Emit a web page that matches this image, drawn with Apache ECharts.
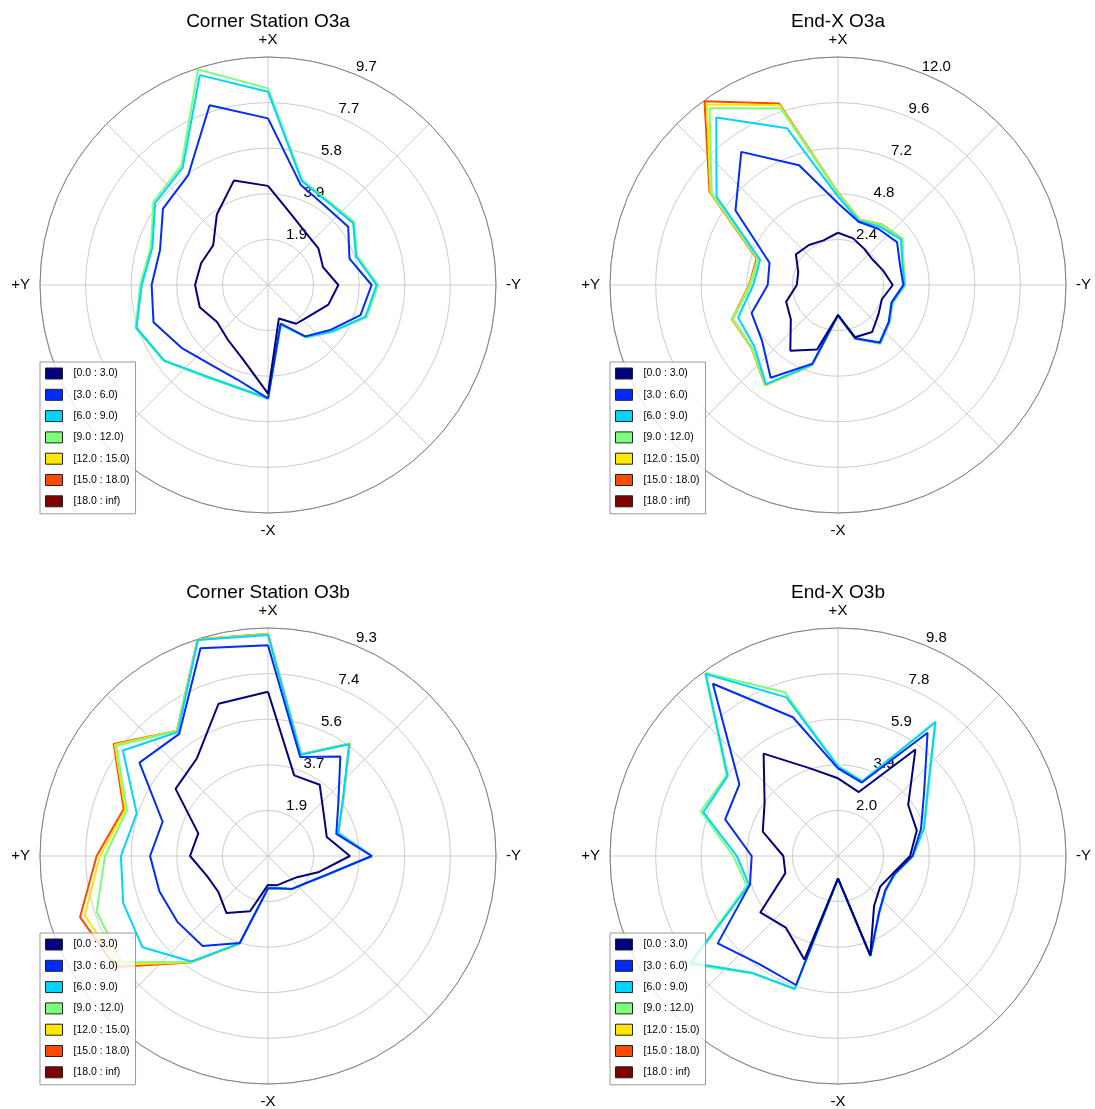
<!DOCTYPE html>
<html><head><meta charset="utf-8">
<script src="https://cdn.jsdelivr.net/npm/echarts@6/dist/echarts.min.js"></script>
<style>html,body{margin:0;padding:0;background:#fff}#c{width:1095px;height:1109px}</style>
</head><body><div id="c"></div>
<script>
// direction (degrees, counter-clockwise from +X towards +Y)
const directions = [0,18,36,54,72,90,108,126,144,162,180,198,216,234,252,270,288,306,324,342];
const binNames = ['[0.0 : 3.0)','[3.0 : 6.0)','[6.0 : 9.0)','[9.0 : 12.0)','[12.0 : 15.0)','[15.0 : 18.0)','[18.0 : inf)'];
const binColors = ['#000080','#002bff','#00d4ff','#7bff7b','#ffe600','#ff4800','#800000'];
const panelTitles = ['Corner Station O3a','End-X O3a','Corner Station O3b','End-X O3b'];
const radiusMax = [9.66, 12.0, 9.3, 9.8];
const cardinalLabels = {0:'+X', 90:'+Y', 180:'-X', 270:'-Y'};

// cumulative frequency per bin (Corner Station O3a)
const tl0 = [4.2,4.66,3.69,2.87,2.98,3.09,3.04,2.67,2.88,3.35,4.6,1.49,2.03,2.2,2.69,2.98,2.45,2.64,2.73,3.16];
const tl1 = [7.06,8.01,5.75,5.5,4.81,4.93,5.1,4.53,4.16,4.21,4.8,1.72,2.69,3.25,4.12,4.39,3.63,4.2,4.13,4.47];
const tl2 = [8.19,9.35,6.15,5.91,5.15,5.35,5.86,5.44,4.71,4.52,4.8,1.75,2.72,3.35,4.34,4.6,3.92,4.46,4.33,4.63];
const tl3 = [8.33,9.6,6.25,6.0,5.22,5.42,5.9,5.47,4.75,4.56,4.83,1.77,2.75,3.38,4.4,4.67,3.97,4.52,4.38,4.68];
// End-X O3a
const tr0 = [2.75,2.47,2.6,2.74,2.2,2.17,2.87,3.07,4.27,3.57,1.58,2.89,3.06,2.63,2.43,2.88,2.49,2.26,2.35,2.58];
const tr1 = [4.3,6.63,8.66,6.67,3.79,3.7,4.78,4.95,6.03,4.35,1.58,2.95,3.74,3.3,2.96,3.44,3.43,3.84,3.64,3.5];
const tr2 = [4.65,8.67,10.9,7.9,4.31,4.46,5.53,5.46,6.45,4.41,1.6,2.97,3.78,3.33,3.0,3.5,3.57,4.09,3.78,3.56];
const tr3 = [4.83,9.78,11.5,8.22,4.42,4.6,5.81,5.6,6.5,4.43,1.6,2.97,3.8,3.35,3.02,3.52,3.62,4.16,3.9,3.6];
const tr4 = [4.85,9.95,11.75,8.3,4.45,4.65,5.85,5.62,6.52,4.43,1.6,2.97,3.8,3.35,3.02,3.52,3.62,4.17,3.92,3.62];
const tr5 = [4.87,10.05,11.95,8.36,4.5,4.68,5.87,5.63,6.53,4.44,1.6,2.97,3.8,3.35,3.02,3.52,3.62,4.17,3.93,3.63];
// Corner Station O3b
const bl0 = [6.7,6.53,4.93,4.66,2.99,3.18,2.62,2.5,2.88,2.37,1.18,1.25,1.28,1.47,2.15,3.34,2.52,2.82,3.59,3.46];
const bl1 = [8.6,8.91,6.16,6.48,4.52,4.81,4.66,4.57,4.54,3.73,1.32,1.38,1.66,1.89,2.5,4.23,2.93,3.54,5.02,4.25];
const bl2 = [9.01,9.26,6.25,7.32,5.63,6.0,6.21,6.33,5.32,3.75,1.33,1.39,1.67,1.9,2.51,4.24,3.01,3.76,5.63,4.34];
const bl3 = [9.05,9.28,6.3,7.65,6.05,6.65,7.35,7.38,5.35,3.76,1.33,1.39,1.67,1.9,2.51,4.25,3.02,3.78,5.66,4.36];
const bl4 = [9.06,9.29,6.31,7.72,6.12,6.85,7.86,7.55,5.36,3.76,1.33,1.39,1.67,1.9,2.51,4.25,3.02,3.78,5.67,4.37];
const bl5 = [9.07,9.3,6.32,7.78,6.19,6.99,8.06,7.7,5.37,3.77,1.33,1.39,1.67,1.9,2.51,4.25,3.02,3.78,5.67,4.37];
// End-X O3b
const br0 = [3.34,3.97,5.44,3.9,3.4,2.35,2.38,4.13,3.81,4.68,0.96,4.49,2.64,2.24,2.47,3.1,3.56,3.73,5.66,2.89];
const br1 = [3.77,6.27,9.15,5.24,5.1,3.71,3.98,6.39,5.75,5.83,0.96,4.5,3.0,2.51,2.54,3.2,3.75,4.57,6.55,3.32];
const br2 = [3.84,7.17,9.67,5.86,6.09,4.35,4.02,7.8,6.22,6.0,0.97,4.52,3.02,2.53,2.56,3.22,3.88,4.76,7.11,3.37];
const br3 = [3.86,7.4,9.72,5.92,6.2,4.5,4.12,7.92,6.24,6.02,0.97,4.52,3.02,2.53,2.56,3.23,3.9,4.8,7.15,3.4];

const panelData = [[tl0,tl1,tl2,tl3],[tr0,tr1,tr2,tr3,tr4,tr5],[bl0,bl1,bl2,bl3,bl4,bl5],[br0,br1,br2,br3]];

const FONT = "'Liberation Sans', Arial, Helvetica, sans-serif";
const centers = [[268,285],[838,285],[268,856],[838,856]];
const R = 228;

const polar = [], angleAxis = [], radiusAxis = [], series = [], title = [], legend = [];
centers.forEach((c, p) => {
  const M = radiusMax[p];
  polar.push({center: c, radius: R});
  angleAxis.push({
    polarIndex: p, type: 'value', min: 0, max: 360, interval: 45,
    startAngle: 90, clockwise: false,
    axisLine: {lineStyle: {color: '#808080', width: 1}},
    axisTick: {show: false},
    axisLabel: {margin: 10, fontSize: 15, color: '#000', fontFamily: FONT,
      formatter: v => (v === 360 ? '' : (cardinalLabels[v] || ''))},
    splitLine: {lineStyle: {color: '#cccccc', width: 1}}
  });
  radiusAxis.push({
    polarIndex: p, type: 'value', min: 0, max: M, interval: M / 5,
    axisLine: {show: false}, axisTick: {show: false}, axisLabel: {show: false},
    splitLine: {lineStyle: {color: '#cccccc', width: 1}}
  });
  title.push({
    text: panelTitles[p], left: c[0], top: c[1] - 273, textAlign: 'center', padding: 0,
    textStyle: {fontSize: 19, fontWeight: 'normal', color: '#000', fontFamily: FONT}
  });
  legend.push({
    data: binNames.map(n => ({name: n, icon: 'rect'})),
    orient: 'vertical', left: c[0] - 228, top: c[1] + 77,
    itemWidth: 17, itemHeight: 11, itemGap: 8.3, selectedMode: false,
    padding: [5, 6, 6, 5],
    backgroundColor: 'rgba(255,255,255,0.8)', borderColor: '#999', borderWidth: 1,
    itemStyle: {borderColor: '#222', borderWidth: 1},
    textStyle: {fontSize: 10.5, color: '#000', fontFamily: FONT, lineHeight: 13, padding: [0, 0, 0, 6]}
  });
  // series drawn from highest bin to lowest so lower bins stay on top
  for (let b = binNames.length - 1; b >= 0; b--) {
    const arr = panelData[p][b];
    const data = arr ? arr.map((v, i) => [v, directions[i]]).concat([[arr[0], 360]]) : [];
    series.push({
      type: 'line', name: binNames[b], coordinateSystem: 'polar', polarIndex: p,
      data: data, symbol: 'none', smooth: false, silent: true,
      color: binColors[b],
      lineStyle: {color: binColors[b], width: 2}
    });
  }
});
// secondary polars: only carry the radial tick labels along the 22.5 deg direction
centers.forEach((c, p) => {
  const M = radiusMax[p];
  const idx = 4 + p;
  polar.push({center: [c[0] + 11.1, c[1] - 7.6], radius: R});
  angleAxis.push({polarIndex: idx, type: 'value', min: 0, max: 360, startAngle: 67.5, clockwise: false, show: false});
  radiusAxis.push({
    polarIndex: idx, type: 'value', min: 0, max: M, interval: M / 5,
    axisLine: {show: false}, axisTick: {show: false}, splitLine: {show: false},
    axisLabel: {show: true, margin: 0, align: 'center', verticalAlign: 'middle', rotate: 0,
      fontSize: 15, color: '#000', fontFamily: FONT,
      formatter: v => (v <= 0 ? '' : v.toFixed(1))}
  });
});

const chart = echarts.init(document.getElementById('c'), null, {renderer: 'canvas'});
chart.setOption({
  animation: false,
  backgroundColor: '#fff',
  title, legend, polar, angleAxis, radiusAxis, series
});
</script>
</body></html>
